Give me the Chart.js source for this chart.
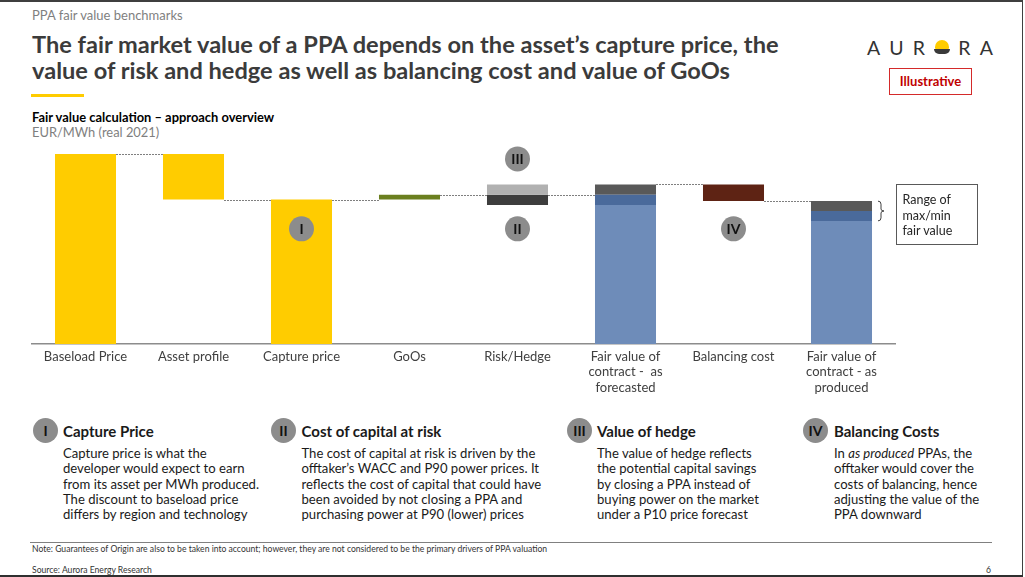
<!DOCTYPE html>
<html>
<head>
<meta charset="utf-8">
<script src="https://cdn.jsdelivr.net/npm/chart.js@4.4.0/dist/chart.umd.min.js"></script>
<style>
  html, body { margin: 0; padding: 0; }
  body { width: 1025px; height: 577px; position: relative; overflow: hidden; background: #fff; font-family: Lato, "Open Sans", sans-serif; }
  .abs { position: absolute; white-space: nowrap; }
  .frame-top { left: 0; top: 0; width: 1023px; height: 1.5px; background: #3f3f3f; }
  .frame-right { left: 1021.5px; top: 0; width: 1.5px; height: 576px; background: #3f3f3f; }
  .frame-bottom { left: 0; top: 574.5px; width: 1023px; height: 2px; background: #2f2f2f; }
  #section { left: 32px; top: 7px; font-size: 13px; line-height: 16px; color: #7f7f7f; }
  #title { left: 32px; top: 31px; font-size: 23.6px; line-height: 26px; font-weight: 700; color: #3b3b3b; }
  #underline { left: 31px; top: 93.5px; width: 53px; height: 3px; background: #ffcc00; }
  #subtitle { left: 32px; top: 110px; font-size: 12.9px; line-height: 15px; color: #000; }
  #subtitle b { font-weight: 700; }
  #subtitle span { color: #7f7f7f; }
  #logo { left: 867px; top: 36px; font-size: 19.5px; line-height: 24px; letter-spacing: 9.3px; color: #333; }
  #sun { display: inline-block; position: relative; width: 16px; height: 16px; vertical-align: -1px; margin-right: 8px; }
  #sun .top { position: absolute; left: 1px; top: 0; width: 14px; height: 9px; background: #ffcc00; border-radius: 7px 7px 1px 1px; }
  #sun .bot { position: absolute; left: 0; top: 9px; width: 16px; height: 5px; background: #3a3a3a; border-radius: 0 0 8px 8px; }
  #illus { left: 889px; top: 68px; width: 81px; height: 25px; border: 1.5px solid #d42a2a; color: #c00000; font-weight: 700; font-size: 13px; line-height: 25px; text-align: center; }
  #chartbox { left: 0; top: 140px; width: 1000px; height: 260px; }
  #range { left: 895.5px; top: 184px; width: 74px; border: 1px solid #595959; padding-left: 6px; font-size: 12.5px; line-height: 15.5px; color: #262626; padding-top: 7px; height: 52px; }
  .num { width: 25px; height: 25px; border-radius: 50%; background: #8c8c8c; color: #111; font-weight: 700; font-size: 14px; line-height: 25px; text-align: center; }
  .head { font-size: 15px; line-height: 18px; font-weight: 700; color: #1a1a1a; }
  .body { font-size: 13.1px; line-height: 15.3px; color: #1a1a1a; }
  #sep { left: 30px; top: 541.8px; width: 962px; height: 1px; background: #808080; }
  .foot { font-size: 8.6px; line-height: 10px; color: #333; }
</style>
</head>
<body>
<div class="abs frame-top"></div>
<div class="abs frame-right"></div>
<div class="abs frame-bottom"></div>

<div class="abs" id="section">PPA fair value benchmarks</div>
<div class="abs" id="title">The fair market value of a PPA depends on the asset’s capture price, the<br>value of risk and hedge as well as balancing cost and value of GoOs</div>
<div class="abs" id="underline"></div>
<div class="abs" id="subtitle"><b>Fair value calculation – approach overview</b><br><span>EUR/MWh (real 2021)</span></div>

<div class="abs" id="logo">AUR<span id="sun"><span class="top"></span><span class="bot"></span></span>RA</div>
<div class="abs" id="illus">Illustrative</div>

<div class="abs" id="chartbox"><canvas id="fairValueChart" width="1000" height="260"></canvas></div>
<div class="abs" id="range">Range of<br>max/min<br>fair value</div>

<div class="abs num" style="left:33px; top:418px;">I</div>
<div class="abs head" style="left:63px; top:421.5px;">Capture Price</div>
<div class="abs body" style="left:63px; top:446px;">Capture price is what the<br>developer would expect to earn<br>from its asset per MWh produced.<br>The discount to baseload price<br>differs by region and technology</div>

<div class="abs num" style="left:271px; top:418px;">II</div>
<div class="abs head" style="left:301.5px; top:421.5px;">Cost of capital at risk</div>
<div class="abs body" style="left:301.5px; top:446px;">The cost of capital at risk is driven by the<br>offtaker’s WACC and P90 power prices. It<br>reflects the cost of capital that could have<br>been avoided by not closing a PPA and<br>purchasing power at P90 (lower) prices</div>

<div class="abs num" style="left:567px; top:418px;">III</div>
<div class="abs head" style="left:597px; top:421.5px;">Value of hedge</div>
<div class="abs body" style="left:597px; top:446px;">The value of hedge reflects<br>the potential capital savings<br>by closing a PPA instead of<br>buying power on the market<br>under a P10 price forecast</div>

<div class="abs num" style="left:803px; top:418px;">IV</div>
<div class="abs head" style="left:834px; top:421.5px;">Balancing Costs</div>
<div class="abs body" style="left:834px; top:446px;">In <i>as produced</i> PPAs, the<br>offtaker would cover the<br>costs of balancing, hence<br>adjusting the value of the<br>PPA downward</div>

<div class="abs" id="sep"></div>
<div class="abs foot" style="left:32px; top:544px;">Note: Guarantees of Origin are also to be taken into account; however, they are not considered to be the primary drivers of PPA valuation</div>
<div class="abs foot" style="left:32px; top:564.5px;">Source: Aurora Energy Research</div>
<div class="abs foot" style="left:986px; top:564.5px;">6</div>

<script>
// Fair value waterfall (illustrative, EUR/MWh)
const categories = [
  'Baseload Price',
  'Asset profile',
  'Capture price',
  'GoOs',
  'Risk/Hedge',
  ['Fair value of', 'contract -  as', 'forecasted'],
  'Balancing cost',
  ['Fair value of', 'contract - as', 'produced']
];

// floating bars: [low, high], null where a series has no bar
const priceSteps   = [[0, 50], [38, 50], [0, 38], null, null, null, null, null];
const goosValue    = [null, null, null, [38, 39.3], null, null, null, null];
const hedgeValue   = [null, null, null, null, [39.3, 42], null, null, null];
const capitalCost  = [null, null, null, null, [36.6, 39.3], null, null, null];
const fairBase     = [null, null, null, null, null, [0, 36.6], null, [0, 32.4]];
const fairMin      = [null, null, null, null, null, [36.6, 39.3], null, [32.4, 35]];
const fairMax      = [null, null, null, null, null, [39.3, 42], null, [35, 37.6]];
const balancing    = [null, null, null, null, null, null, [37.6, 42], null];

// level of the dotted connector between bar i and bar i+1
const connectorLevels = [50, 38, 38, 39.3, 39.3, 42, 37.6];

// roman numeral markers: category index and value
const markers = [
  { text: 'I',   index: 2, value: 30.3 },
  { text: 'II',  index: 4, value: 30.3 },
  { text: 'III', index: 4, value: 48.7 },
  { text: 'IV',  index: 6, value: 30.3 }
];

// brace next to the as-produced bar
const rangeBrace = { index: 7, low: 32.4, high: 37.6 };

const barPct = 0.565;

function barSet(data, color) {
  return {
    data,
    backgroundColor: color,
    grouped: false,
    barPercentage: barPct,
    categoryPercentage: 1,
    borderWidth: 0
  };
}

const waterfallExtras = {
  id: 'waterfallExtras',
  afterDatasetsDraw(chart) {
    const { ctx, scales: { x, y } } = chart;
    const half = (x.getPixelForValue(1) - x.getPixelForValue(0)) * barPct / 2;

    // dotted connectors
    ctx.save();
    ctx.strokeStyle = '#7f7f7f';
    ctx.lineWidth = 1.2;
    ctx.setLineDash([2, 1]);
    connectorLevels.forEach((lvl, i) => {
      const py = Math.round(y.getPixelForValue(lvl)) + 0.5;
      ctx.beginPath();
      ctx.moveTo(x.getPixelForValue(i) + half, py);
      ctx.lineTo(x.getPixelForValue(i + 1) - half, py);
      ctx.stroke();
    });
    ctx.restore();

    // numeral circles
    ctx.save();
    markers.forEach(m => {
      const cx = x.getPixelForValue(m.index);
      const cy = y.getPixelForValue(m.value);
      ctx.beginPath();
      ctx.arc(cx, cy, 12.5, 0, Math.PI * 2);
      ctx.fillStyle = '#8c8c8c';
      ctx.fill();
      ctx.fillStyle = '#111';
      ctx.font = 'bold 14px Lato';
      ctx.textAlign = 'center';
      ctx.textBaseline = 'middle';
      ctx.fillText(m.text, cx, cy + 1);
    });
    ctx.restore();

    // brace
    const bx = x.getPixelForValue(rangeBrace.index) + half + 6;
    const top = y.getPixelForValue(rangeBrace.high);
    const bot = y.getPixelForValue(rangeBrace.low);
    const mid = (top + bot) / 2;
    ctx.save();
    ctx.strokeStyle = '#404040';
    ctx.lineWidth = 1;
    ctx.beginPath();
    ctx.moveTo(bx, top);
    ctx.quadraticCurveTo(bx + 3, top, bx + 3, top + 3);
    ctx.lineTo(bx + 3, mid - 2);
    ctx.quadraticCurveTo(bx + 3, mid, bx + 6, mid);
    ctx.quadraticCurveTo(bx + 3, mid, bx + 3, mid + 2);
    ctx.lineTo(bx + 3, bot - 3);
    ctx.quadraticCurveTo(bx + 3, bot, bx, bot);
    ctx.stroke();
    ctx.restore();
  }
};

new Chart(document.getElementById('fairValueChart'), {
  type: 'bar',
  data: {
    labels: categories,
    datasets: [
      barSet(priceSteps, '#ffcc00'),
      barSet(goosValue, '#6b7f1f'),
      barSet(hedgeValue, '#b1b1b1'),
      barSet(capitalCost, '#3d3d3d'),
      barSet(fairBase, '#6e8cb9'),
      barSet(fairMin, '#4a6a9b'),
      barSet(fairMax, '#595959'),
      barSet(balancing, '#5e2314')
    ]
  },
  options: {
    responsive: false,
    animation: false,
    layout: { padding: { left: 31.5, right: 104.5, top: 6.4, bottom: 0 } },
    plugins: {
      legend: { display: false },
      tooltip: { enabled: false }
    },
    scales: {
      x: {
        grid: { display: false, drawTicks: false },
        border: { display: true, color: '#8c8c8c', width: 1.5 },
        ticks: {
          color: '#404040',
          font: { family: 'Lato', size: 13, lineHeight: 1.19 },
          padding: 5,
          maxRotation: 0,
          autoSkip: false
        },
        afterFit(scale) { scale.height = 56; }
      },
      y: {
        display: false,
        min: 0,
        max: 52
      }
    }
  },
  plugins: [waterfallExtras]
});
</script>
</body>
</html>
